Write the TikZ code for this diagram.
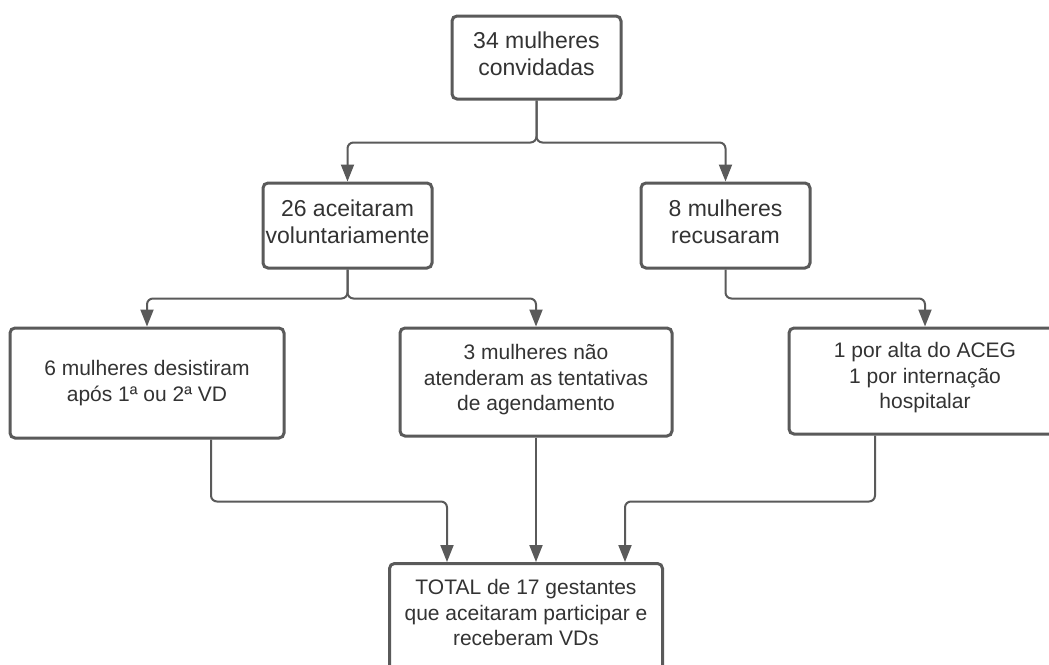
\documentclass[tikz,border=0pt]{standalone}
\usepackage{fontspec}
\setmainfont{Liberation Sans}
\usetikzlibrary{arrows.meta}
\definecolor{edgec}{HTML}{5A5A5A}
\definecolor{txt}{HTML}{333333}
\begin{document}
\begin{tikzpicture}[x=1pt,y=-1pt,
  box/.style={draw=edgec, line width=3pt, rounded corners=5pt, fill=white, align=center, text=txt, inner sep=0pt},
  lbl/.style={text=txt, align=center, inner sep=0pt},
  big/.style={font=\fontsize{23}{27}\selectfont},
  small/.style={font=\fontsize{21}{25.5}\selectfont},
  conn/.style={draw=edgec, line width=2pt, rounded corners=6pt, -{Triangle[length=17pt,width=13pt]}},
]
\useasboundingbox (0,0) rectangle (1049,664);
\fill[white] (0,0) rectangle (1049,664);

\node[box,minimum width=169pt,minimum height=83pt] (top) at (536.5,57.5) {};
\node[lbl,big] (topt) at ([yshift=4pt]top.center) {34 mulheres\\convidadas};
\node[box,minimum width=169pt,minimum height=85pt] (b26) at (347.5,225.5) {};
\node[lbl,big] (b26t) at ([yshift=4pt]b26.center) {26 aceitaram\\voluntariamente};
\node[box,minimum width=169pt,minimum height=85pt] (b8) at (725.5,225.5) {};
\node[lbl,big] (b8t) at ([yshift=4pt]b8.center) {8 mulheres\\recusaram};

\node[box,small,minimum width=274pt,minimum height=110pt] (b6) at (147,383) {6 mulheres desistiram\\após 1ª ou 2ª VD};
\node[box,minimum width=272pt,minimum height=108pt] (b3) at (536,382) {};
\node[lbl,small] (b3t) at ([yshift=2pt]b3.center) {3 mulheres não\\atenderam as tentativas\\de agendamento};
\node[box,minimum width=272pt,minimum height=106pt] (b1) at (925,381) {};
\node[lbl,small] (b1t) at ([yshift=3pt]b1.center) {1 por alta do ACEG\\1 por internação\\hospitalar};

\node[box,minimum width=273pt,minimum height=128pt,anchor=north] (bt) at (526,562) {};
\node[lbl,small] (btt) at (526,612.5) {TOTAL de 17 gestantes\\que aceitaram participar e\\receberam VDs};

\draw[conn] (top.south) -- ++(0,42) -| (b26.north);
\draw[conn] (top.south) -- ++(0,42) -| (b8.north);
\draw[conn] (b26.south) -- ++(0,29) -| (b6.north);
\draw[conn] (b26.south) -- ++(0,29) -| (b3.north);
\draw[conn] (b8.south) -- ++(0,29) -| (b1.north);

\draw[conn] ([xshift=64pt]b6.south) -- ++(0,62) -| ([xshift=-79pt]bt.north);
\draw[conn] (b3.south) -- (b3.south |- bt.north);
\draw[conn] ([xshift=-50pt]b1.south) -- ++(0,66) -| ([xshift=99pt]bt.north);
\end{tikzpicture}
\end{document}
